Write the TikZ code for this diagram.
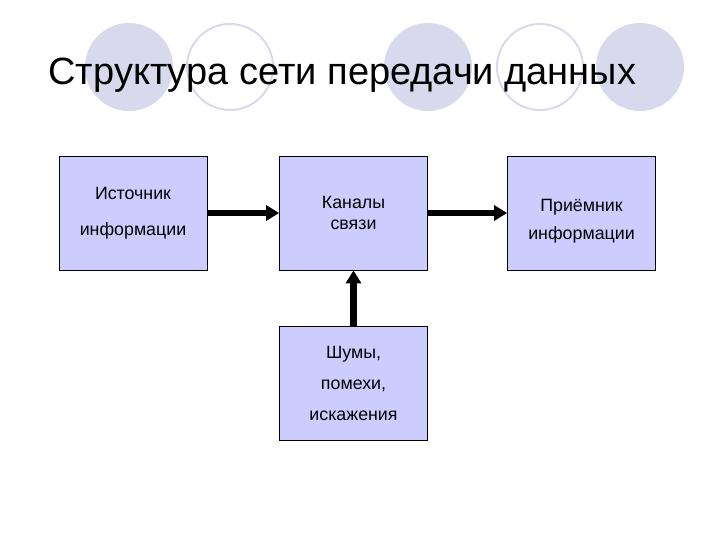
\documentclass[tikz,border=0pt]{standalone}
\usepackage{fontspec}
\setmainfont{Liberation Sans}
\usetikzlibrary{arrows.meta}
\usepackage{xcolor}
\definecolor{circfill}{RGB}{217,217,237}
\definecolor{boxfill}{RGB}{204,204,255}

\begin{document}
\begin{tikzpicture}[x=1pt,y=-1pt,
        box/.style={draw=black, line width=0.8pt, fill=boxfill, minimum width=148pt, minimum height=114pt, inner sep=0pt, align=center, font=\fontsize{17.8}{21}\selectfont},
        flow/.style={line width=6.5pt, -{Triangle[length=13pt,width=15pt]}}]
        \useasboundingbox (0,0) rectangle (720,540);

        \foreach \cx in {129,428,640} {
                \fill[circfill] (\cx,67) circle (44pt);
            }
        \foreach \cx in {230,540} {
                \draw[circfill, line width=2pt] (\cx,67) circle (43pt);
            }

        \node[anchor=base west, font=\fontsize{38}{44}\selectfont] (title) at (45,85) {Структура сети передачи данных};

        \node[box] (src) at (133,213) {Источник\\[15pt]информации};
        \node[box] (chan) at (353.5,213) {Каналы\\связи};
        \node[box] (dst) at (581.5,213) {\rule{0pt}{29pt}Приёмник\\[7.5pt]информации};
        \node[box] (noise) at (353.5,383) {Шумы,\\[10pt]помехи,\\[10pt]искажения};

        \draw[flow] (src.east) -- (chan.west);
        \draw[flow] (chan.east) -- (dst.west);
        \draw[flow] (noise.north) -- (chan.south);
    \end{tikzpicture}
\end{document}
